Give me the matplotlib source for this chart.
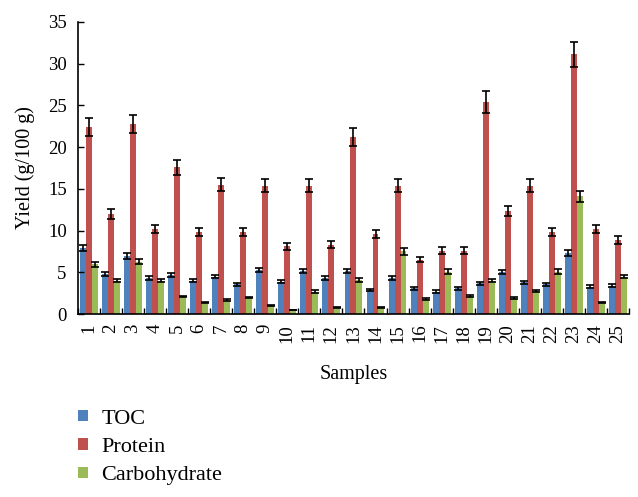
import matplotlib
matplotlib.use("Agg")
import matplotlib.pyplot as plt
import numpy as np

samples = [str(i) for i in range(1, 26)]

toc = [7.9, 4.8, 7.0, 4.3, 4.7, 4.0, 4.5, 3.6, 5.3, 3.9, 5.2, 4.3, 5.2,
       2.9, 4.3, 3.1, 2.7, 3.1, 3.7, 5.0, 3.8, 3.6, 7.3, 3.3, 3.4]
protein = [22.4, 12.0, 22.8, 10.2, 17.6, 9.8, 15.5, 9.8, 15.4, 8.1, 15.4, 8.3, 21.2,
           9.6, 15.4, 6.5, 7.6, 7.6, 25.4, 12.3, 15.4, 9.8, 31.1, 10.2, 8.9]
carbohydrate = [6.0, 4.0, 6.3, 4.0, 2.1, 1.4, 1.7, 2.0, 1.0, 0.5, 2.7, 0.8, 4.1,
                0.8, 7.5, 1.8, 5.1, 2.2, 4.0, 1.9, 2.8, 5.1, 14.1, 1.4, 4.5]

toc_err = [0.4, 0.25, 0.35, 0.22, 0.24, 0.2, 0.23, 0.18, 0.27, 0.2, 0.26, 0.22, 0.26,
           0.15, 0.22, 0.16, 0.14, 0.16, 0.19, 0.25, 0.19, 0.18, 0.37, 0.17, 0.17]
protein_err = [1.1, 0.6, 1.1, 0.5, 0.9, 0.5, 0.8, 0.5, 0.8, 0.4, 0.8, 0.4, 1.1,
               0.5, 0.8, 0.3, 0.4, 0.4, 1.3, 0.6, 0.8, 0.5, 1.5, 0.5, 0.45]
carbohydrate_err = [0.3, 0.2, 0.3, 0.2, 0.1, 0.07, 0.09, 0.1, 0.05, 0.03, 0.14, 0.04, 0.2,
                    0.04, 0.38, 0.09, 0.26, 0.11, 0.2, 0.1, 0.14, 0.26, 0.7, 0.07, 0.23]

series = [("TOC", toc, toc_err, "#4F81BD"),
          ("Protein", protein, protein_err, "#C0504D"),
          ("Carbohydrate", carbohydrate, carbohydrate_err, "#9BBB59")]

plt.rcParams["font.family"] = ["Liberation Serif", "DejaVu Serif"]

fig = plt.figure(figsize=(6.38, 4.97), dpi=100)
ax = fig.add_axes([0.122, 0.368, 0.864, 0.588])

x = np.arange(1, len(samples) + 1)
w = 0.27
for k, (name, vals, err, col) in enumerate(series):
    ax.bar(x + (k - 1) * w, vals, w, color=col, label=name,
           yerr=err, capsize=3,
           error_kw=dict(ecolor="black", elinewidth=1.2, capthick=1.2))

ax.set_xlim(0.5, 25.5)
ax.set_ylim(0, 35)
ax.set_yticks(range(0, 36, 5))
ax.set_xticks(x)
ax.set_xticklabels(samples, rotation=90, fontsize=13.5)
ax.set_xticks(np.arange(0.5, 26, 1), minor=True)
ax.tick_params(axis="x", which="major", length=0, pad=7)
ax.tick_params(axis="x", which="minor", direction="in", length=4, width=1)
ax.tick_params(axis="y", direction="in", length=4, width=1, labelsize=13.5, pad=8)
for s in ["top", "right"]:
    ax.spines[s].set_visible(False)
ax.spines["left"].set_linewidth(1.2)
ax.spines["bottom"].set_linewidth(1.2)

ax.set_ylabel("Yield (g/100 g)", fontsize=14.5)
ax.yaxis.set_label_coords(-0.077, 0.5)
ax.set_xlabel("Samples", fontsize=14.5)
ax.xaxis.set_label_coords(0.5, -0.175)

ax.legend(loc="upper left", bbox_to_anchor=(0.123, 0.176), bbox_transform=fig.transFigure,
          frameon=False, fontsize=16, handlelength=0.42, handleheight=0.42,
          handletextpad=0.6, labelspacing=0.42, borderpad=0, borderaxespad=0)

fig.savefig("out.png", dpi=100)
